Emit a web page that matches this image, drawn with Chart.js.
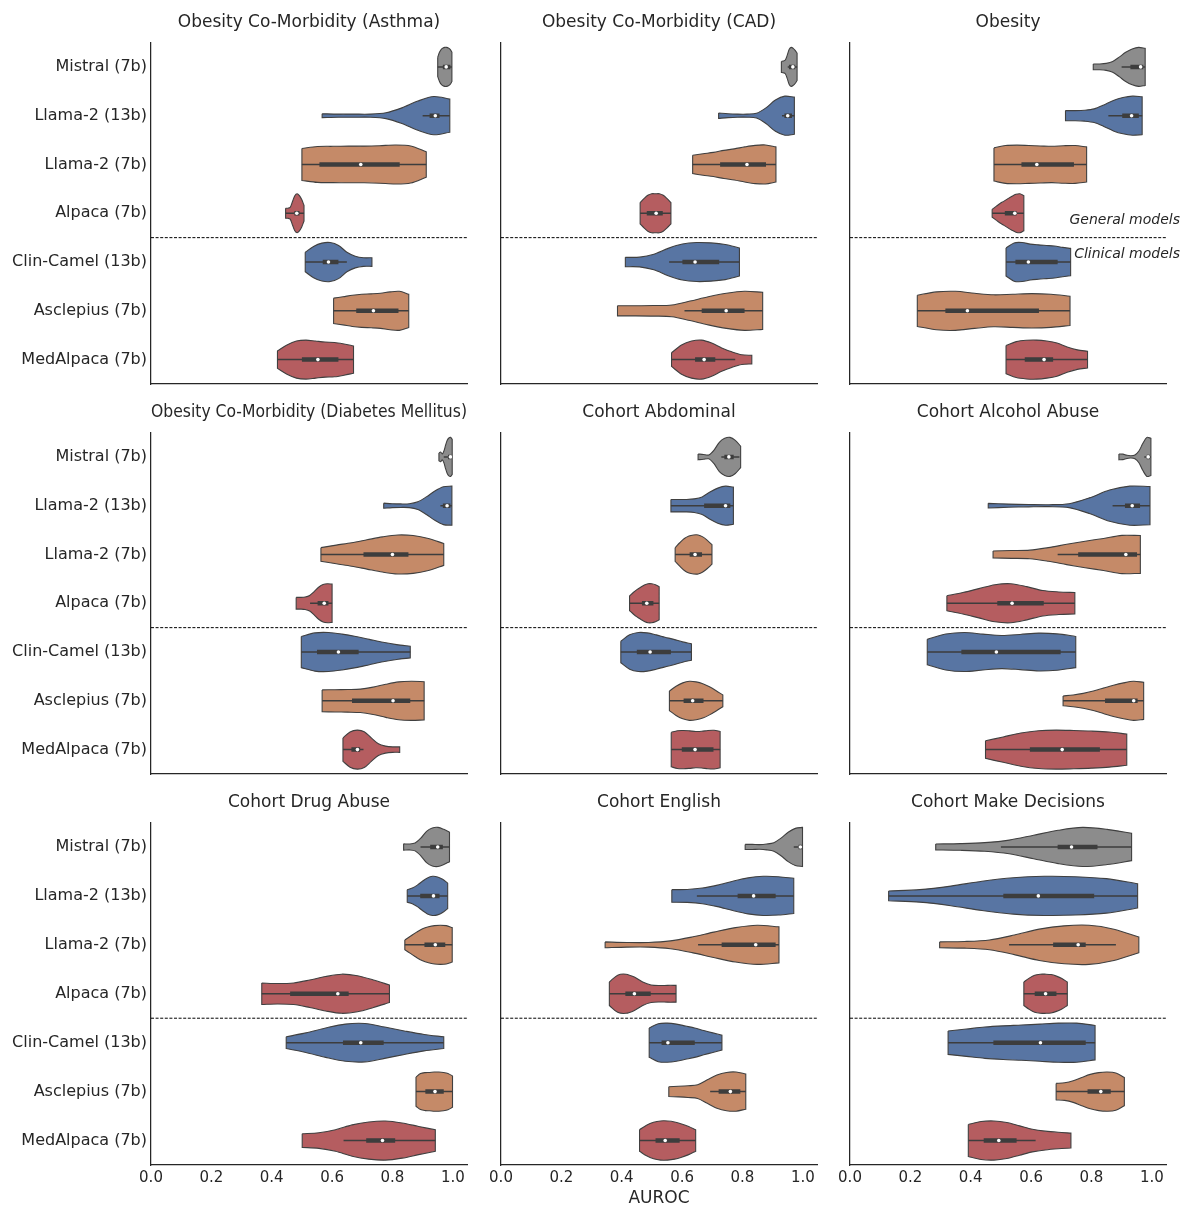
<!DOCTYPE html>
<html>
<head>
<meta charset="utf-8">
<title>AUROC violins</title>
<script src="https://cdn.jsdelivr.net/npm/chart.js@4.4.1/dist/chart.umd.min.js"></script>
<style>
    body { margin: 0; background: #ffffff; }
    #page { position: relative; width: 1183px; height: 1207px; overflow: hidden; }
    canvas { position: absolute; }
</style>
</head>
<body>
<div id="page"></div>
<script>
const models = ["Mistral (7b)", "Llama-2 (13b)", "Llama-2 (7b)", "Alpaca (7b)", "Clin-Camel (13b)", "Asclepius (7b)", "MedAlpaca (7b)"];
const modelColors = ["#8c8c8c", "#5875a3", "#c58a68", "#b55d60", "#5875a3", "#c58a68", "#b55d60"];
const panelTitles = [
    "Obesity Co-Morbidity (Asthma)", "Obesity Co-Morbidity (CAD)", "Obesity",
    "Obesity Co-Morbidity (Diabetes Mellitus)", "Cohort Abdominal", "Cohort Alcohol Abuse",
    "Cohort Drug Abuse", "Cohort English", "Cohort Make Decisions"
];
const xTicks = [0.0, 0.2, 0.4, 0.6, 0.8, 1.0];
const groupNotes = ["General models", "Clinical models"];

// violin outline per model: [lowest AUROC, highest AUROC, relative widths read from low to high]
// inner box per model: [whisker low, q1, median, q3, whisker high]
const asthmaViolins = [
    [0.950, 0.997, [0.5, 0.75, 0.9, 0.97, 1, 1, 0.97, 0.9, 0.75]],
    [0.567, 0.990, [0.1, 0.08, 0.08, 0.08, 0.15, 0.4, 0.75, 0.98, 0.85]],
    [0.500, 0.912, [0.82, 0.92, 0.93, 0.94, 0.94, 0.96, 1.0, 0.95, 0.65]],
    [0.446, 0.507, [0.26, 0.26, 0.3, 0.6, 0.9, 1.0, 0.9, 0.7, 0.4]],
    [0.511, 0.732, [0.5, 0.8, 0.97, 1.0, 0.85, 0.5, 0.3, 0.22, 0.22]],
    [0.605, 0.854, [0.65, 0.72, 0.8, 0.85, 0.87, 0.9, 0.97, 1.0, 0.85]],
    [0.419, 0.671, [0.45, 0.75, 0.95, 1.0, 0.95, 0.9, 0.88, 0.8, 0.7]]
];
const asthmaBoxes = [
    [0.950, 0.967, 0.978, 0.992, 0.997],
    [0.900, 0.923, 0.942, 0.956, 0.990],
    [0.500, 0.558, 0.695, 0.824, 0.912],
    [0.446, 0.475, 0.483, 0.492, 0.507],
    [0.511, 0.569, 0.588, 0.621, 0.649],
    [0.605, 0.680, 0.737, 0.820, 0.854],
    [0.419, 0.500, 0.553, 0.621, 0.671]
];

const cadViolins = [
    [0.929, 0.981, [0.28, 0.3, 0.35, 0.6, 0.9, 1.0, 0.95, 0.85, 0.7]],
    [0.721, 0.972, [0.14, 0.1, 0.08, 0.08, 0.12, 0.4, 0.8, 1.0, 0.95]],
    [0.635, 0.911, [0.47, 0.55, 0.62, 0.72, 0.8, 0.9, 0.98, 1.0, 0.9]],
    [0.461, 0.563, [0.55, 0.75, 0.92, 1, 1, 1, 0.92, 0.75, 0.55]],
    [0.412, 0.790, [0.24, 0.25, 0.4, 0.7, 0.92, 1.0, 0.98, 0.9, 0.72]],
    [0.386, 0.867, [0.26, 0.26, 0.27, 0.3, 0.5, 0.72, 0.9, 1.0, 0.95]],
    [0.565, 0.831, [0.35, 0.75, 0.95, 1.0, 0.85, 0.6, 0.4, 0.25, 0.22]]
];
const cadBoxes = [
    [0.950, 0.954, 0.967, 0.975, 0.981],
    [0.931, 0.939, 0.950, 0.964, 0.972],
    [0.635, 0.726, 0.815, 0.878, 0.911],
    [0.461, 0.483, 0.514, 0.536, 0.563],
    [0.557, 0.601, 0.643, 0.723, 0.790],
    [0.608, 0.665, 0.746, 0.807, 0.867],
    [0.565, 0.643, 0.673, 0.710, 0.776]
];

const obesityViolins = [
    [0.806, 0.978, [0.15, 0.15, 0.18, 0.28, 0.5, 0.75, 0.92, 1.0, 0.95]],
    [0.714, 0.968, [0.26, 0.26, 0.28, 0.35, 0.55, 0.78, 0.93, 1.0, 0.97]],
    [0.477, 0.784, [0.85, 0.97, 0.99, 0.97, 0.95, 0.93, 0.96, 0.97, 0.9]],
    [0.471, 0.576, [0.2, 0.35, 0.5, 0.62, 0.75, 0.87, 0.97, 1.0, 0.9]],
    [0.517, 0.731, [0.72, 0.98, 1.0, 0.92, 0.88, 0.85, 0.82, 0.75, 0.7]],
    [0.223, 0.729, [0.8, 0.97, 1.0, 0.9, 0.82, 0.85, 0.88, 0.85, 0.75]],
    [0.517, 0.787, [0.72, 0.92, 0.99, 1.0, 0.95, 0.85, 0.65, 0.5, 0.43]]
];
const obesityBoxes = [
    [0.900, 0.929, 0.963, 0.972, 0.978],
    [0.856, 0.902, 0.933, 0.957, 0.968],
    [0.477, 0.568, 0.619, 0.742, 0.784],
    [0.471, 0.513, 0.546, 0.552, 0.576],
    [0.517, 0.548, 0.591, 0.688, 0.731],
    [0.223, 0.316, 0.389, 0.626, 0.729],
    [0.517, 0.579, 0.643, 0.673, 0.787]
];

const diabetesViolins = [
    [0.954, 0.998, [0.2, 0.25, 0.15, 0.3, 0.6, 0.85, 0.97, 1.0, 0.9]],
    [0.771, 0.997, [0.13, 0.1, 0.09, 0.1, 0.2, 0.45, 0.75, 0.97, 1.0]],
    [0.563, 0.970, [0.35, 0.48, 0.6, 0.75, 0.9, 1.0, 0.97, 0.82, 0.56]],
    [0.481, 0.600, [0.3, 0.3, 0.32, 0.4, 0.6, 0.82, 0.96, 1.0, 0.98]],
    [0.498, 0.859, [0.8, 0.98, 1.0, 0.92, 0.8, 0.65, 0.5, 0.38, 0.3]],
    [0.567, 0.905, [0.56, 0.57, 0.58, 0.6, 0.7, 0.85, 0.97, 1.0, 0.98]],
    [0.636, 0.824, [0.6, 0.9, 1.0, 0.92, 0.6, 0.3, 0.18, 0.14, 0.14]]
];
const diabetesBoxes = [
    [0.970, 0.984, 0.992, 0.995, 0.998],
    [0.959, 0.967, 0.981, 0.992, 0.997],
    [0.563, 0.704, 0.800, 0.853, 0.970],
    [0.527, 0.552, 0.574, 0.588, 0.600],
    [0.498, 0.550, 0.621, 0.688, 0.859],
    [0.567, 0.666, 0.802, 0.859, 0.905],
    [0.636, 0.664, 0.684, 0.693, 0.704]
];

const abdominalViolins = [
    [0.653, 0.794, [0.15, 0.12, 0.1, 0.35, 0.75, 0.95, 1.0, 0.85, 0.55]],
    [0.563, 0.770, [0.32, 0.32, 0.32, 0.35, 0.45, 0.7, 0.9, 1.0, 0.95]],
    [0.577, 0.699, [0.35, 0.6, 0.82, 0.95, 1.0, 1.0, 0.9, 0.72, 0.5]],
    [0.426, 0.524, [0.38, 0.55, 0.7, 0.82, 0.93, 1.0, 1.0, 0.95, 0.85]],
    [0.397, 0.631, [0.55, 0.88, 1.0, 0.98, 0.88, 0.76, 0.65, 0.52, 0.42]],
    [0.558, 0.735, [0.5, 0.75, 0.92, 1.0, 0.97, 0.88, 0.72, 0.52, 0.3]],
    [0.564, 0.726, [0.88, 0.97, 0.98, 0.96, 0.93, 0.94, 0.98, 0.99, 0.93]]
];
const abdominalBoxes = [
    [0.730, 0.740, 0.755, 0.771, 0.790],
    [0.563, 0.673, 0.744, 0.760, 0.770],
    [0.577, 0.625, 0.643, 0.666, 0.699],
    [0.426, 0.467, 0.483, 0.505, 0.524],
    [0.397, 0.450, 0.494, 0.563, 0.631],
    [0.558, 0.605, 0.635, 0.671, 0.735],
    [0.564, 0.599, 0.643, 0.704, 0.726]
];

const alcoholViolins = [
    [0.891, 0.997, [0.15, 0.14, 0.08, 0.06, 0.1, 0.3, 0.7, 1.0, 0.95]],
    [0.458, 0.994, [0.12, 0.08, 0.06, 0.05, 0.1, 0.4, 0.8, 1.0, 0.98]],
    [0.474, 0.962, [0.18, 0.2, 0.22, 0.35, 0.52, 0.68, 0.82, 0.98, 0.97]],
    [0.321, 0.745, [0.38, 0.55, 0.75, 0.95, 1.0, 0.85, 0.65, 0.58, 0.55]],
    [0.256, 0.748, [0.65, 0.92, 1.0, 0.92, 0.85, 0.9, 0.97, 0.93, 0.8]],
    [0.706, 0.973, [0.25, 0.3, 0.38, 0.5, 0.65, 0.8, 0.92, 1.0, 0.95]],
    [0.449, 0.917, [0.45, 0.65, 0.85, 0.97, 1.0, 0.98, 0.95, 0.9, 0.8]]
];
const alcoholBoxes = [
    [0.975, 0.983, 0.988, 0.994, 0.997],
    [0.870, 0.911, 0.935, 0.961, 0.994],
    [0.688, 0.756, 0.914, 0.951, 0.962],
    [0.321, 0.488, 0.537, 0.642, 0.745],
    [0.256, 0.369, 0.485, 0.698, 0.748],
    [0.706, 0.845, 0.940, 0.953, 0.973],
    [0.449, 0.596, 0.703, 0.828, 0.917]
];

const drugViolins = [
    [0.837, 0.989, [0.16, 0.15, 0.2, 0.45, 0.8, 0.97, 1.0, 0.9, 0.75]],
    [0.849, 0.983, [0.32, 0.4, 0.55, 0.75, 0.92, 1.0, 0.97, 0.85, 0.65]],
    [0.841, 0.998, [0.25, 0.45, 0.65, 0.82, 0.92, 0.98, 1.0, 0.98, 0.88]],
    [0.367, 0.790, [0.55, 0.52, 0.55, 0.7, 0.88, 1.0, 0.92, 0.7, 0.45]],
    [0.448, 0.970, [0.3, 0.5, 0.75, 0.95, 0.98, 0.8, 0.6, 0.42, 0.3]],
    [0.878, 0.999, [0.75, 0.92, 0.97, 0.98, 1.0, 1.0, 0.98, 0.93, 0.8]],
    [0.501, 0.942, [0.35, 0.4, 0.55, 0.8, 0.95, 1.0, 0.9, 0.72, 0.55]]
];
const drugBoxes = [
    [0.893, 0.925, 0.950, 0.967, 0.989],
    [0.849, 0.892, 0.936, 0.956, 0.983],
    [0.841, 0.906, 0.942, 0.975, 0.998],
    [0.367, 0.461, 0.619, 0.655, 0.790],
    [0.448, 0.636, 0.695, 0.771, 0.970],
    [0.878, 0.909, 0.941, 0.970, 0.999],
    [0.638, 0.713, 0.767, 0.809, 0.942]
];

const englishViolins = [
    [0.809, 0.999, [0.13, 0.13, 0.12, 0.15, 0.22, 0.45, 0.75, 0.95, 1.0]],
    [0.566, 0.970, [0.32, 0.33, 0.4, 0.55, 0.75, 0.92, 1.0, 0.98, 0.9]],
    [0.345, 0.921, [0.15, 0.12, 0.12, 0.2, 0.4, 0.65, 0.88, 1.0, 0.92]],
    [0.359, 0.580, [0.6, 0.95, 1.0, 0.85, 0.6, 0.45, 0.42, 0.43, 0.43]],
    [0.491, 0.732, [0.75, 0.97, 1.0, 0.95, 0.85, 0.75, 0.62, 0.5, 0.38]],
    [0.556, 0.811, [0.25, 0.27, 0.3, 0.35, 0.6, 0.85, 0.98, 1.0, 0.9]],
    [0.459, 0.645, [0.55, 0.78, 0.93, 1.0, 1.0, 0.95, 0.85, 0.72, 0.55]]
];
const englishBoxes = [
    [0.970, 0.986, 0.992, 0.997, 0.999],
    [0.649, 0.784, 0.837, 0.910, 0.970],
    [0.653, 0.731, 0.844, 0.910, 0.921],
    [0.359, 0.412, 0.442, 0.496, 0.580],
    [0.491, 0.532, 0.553, 0.642, 0.732],
    [0.693, 0.721, 0.760, 0.793, 0.811],
    [0.459, 0.512, 0.544, 0.592, 0.645]
];

const decisionsViolins = [
    [0.284, 0.933, [0.15, 0.17, 0.22, 0.35, 0.6, 0.85, 1.0, 0.9, 0.7]],
    [0.128, 0.953, [0.25, 0.32, 0.5, 0.75, 0.93, 1.0, 0.98, 0.88, 0.62]],
    [0.297, 0.957, [0.15, 0.17, 0.25, 0.5, 0.8, 0.97, 1.0, 0.8, 0.4]],
    [0.576, 0.720, [0.6, 0.8, 0.95, 1, 1, 0.98, 0.9, 0.78, 0.6]],
    [0.325, 0.812, [0.6, 0.7, 0.8, 0.86, 0.9, 0.95, 1.0, 1.0, 0.88]],
    [0.683, 0.909, [0.42, 0.45, 0.55, 0.72, 0.88, 0.97, 1.0, 0.95, 0.72]],
    [0.392, 0.732, [0.82, 0.97, 1.0, 0.92, 0.75, 0.58, 0.48, 0.42, 0.38]]
];
const decisionsBoxes = [
    [0.500, 0.688, 0.734, 0.820, 0.933],
    [0.128, 0.508, 0.624, 0.809, 0.953],
    [0.527, 0.673, 0.756, 0.781, 0.881],
    [0.576, 0.612, 0.648, 0.684, 0.720],
    [0.325, 0.475, 0.631, 0.781, 0.812],
    [0.683, 0.787, 0.831, 0.864, 0.909],
    [0.392, 0.443, 0.493, 0.552, 0.615]
];

const panelViolins = [asthmaViolins, cadViolins, obesityViolins, diabetesViolins, abdominalViolins, alcoholViolins, drugViolins, englishViolins, decisionsViolins];
const panelBoxes = [asthmaBoxes, cadBoxes, obesityBoxes, diabetesBoxes, abdominalBoxes, alcoholBoxes, drugBoxes, englishBoxes, decisionsBoxes];

const textColor = "#262626";
const innerColor = "#3d3d3d";
const xMax = 1.047;
const halfWidth = 0.4;

let charts = [];

// outline of one violin as a closed path; corner points are doubled so the flat ends stay straight
function violinOutline(violin, row) {
    let lo = violin[0];
    let hi = violin[1];
    let widths = violin[2];
    let step = (hi - lo) / (widths.length - 1);
    let top = [];
    let bottom = [];

    for(let k = 0; k < widths.length; k++) {
        let x = lo + k * step;
        top.push({x: x, y: row - halfWidth * widths[k]});
        bottom.push({x: x, y: row + halfWidth * widths[k]});
    }
    bottom.reverse();

    let n = top.length;
    let pts = top.slice();
    pts.push(top[n - 1]);
    pts.push(bottom[0], bottom[0]);
    pts = pts.concat(bottom.slice(1));
    pts.push(bottom[n - 1]);
    pts.push(top[0]);
    return pts;
}

function buildDatasets(violins, boxes) {
    let datasets = [];

    for(let i = 0; i < models.length; i++) {
        let box = boxes[i];
        datasets.push({
            data: violinOutline(violins[i], i),
            showLine: true,
            fill: "shape",
            backgroundColor: modelColors[i],
            borderColor: "#404040",
            borderWidth: 1.1,
            tension: 0.3,
            pointRadius: 0,
            order: 4
        });
        datasets.push({
            data: [{x: box[0], y: i}, {x: box[4], y: i}],
            showLine: true,
            borderColor: innerColor,
            borderWidth: 1.5,
            pointRadius: 0,
            order: 3
        });
        datasets.push({
            data: [{x: box[1], y: i}, {x: box[3], y: i}],
            showLine: true,
            borderColor: innerColor,
            borderWidth: 4.5,
            pointRadius: 0,
            order: 2
        });
        datasets.push({
            data: [{x: box[2], y: i}],
            showLine: false,
            pointRadius: 1.8,
            pointBackgroundColor: "#ffffff",
            pointBorderWidth: 0,
            order: 1
        });
    }

    // separator between general and clinical models
    datasets.push({
        data: [{x: 0, y: 3.5}, {x: xMax, y: 3.5}],
        showLine: true,
        borderColor: "#000000",
        borderWidth: 1,
        borderDash: [3, 1.6],
        pointRadius: 0,
        order: 5
    });

    return datasets;
}

const groupNotesPlugin = {
    id: "groupNotes",
    afterDraw: function(chart) {
        let ctx = chart.ctx;
        let y = chart.scales.y.getPixelForValue(3.5);
        let x = chart.chartArea.right + 14;
        ctx.save();
        ctx.font = "italic 14px 'DejaVu Sans'";
        ctx.fillStyle = textColor;
        ctx.textAlign = "right";
        ctx.textBaseline = "middle";
        ctx.fillText(groupNotes[0], x, y - 17);
        ctx.fillText(groupNotes[1], x, y + 17);
        ctx.restore();
    }
};

function loadPanel(p) {
    let row = Math.floor(p / 3);
    let col = p % 3;
    let lastRow = row == 2;
    let axisHeight = lastRow ? 44 : 3;

    let canvas = document.createElement("canvas");
    canvas.width = 484;
    canvas.height = 40.5 + 345 + axisHeight;
    canvas.style.left = [0, 350, 699][col] + "px";
    canvas.style.top = (row * 390) + "px";
    document.getElementById("page").appendChild(canvas);

    const config = {
        type: "scatter",
        data: {datasets: buildDatasets(panelViolins[p], panelBoxes[p])},
        options: {
            responsive: false,
            animation: false,
            devicePixelRatio: 1,
            layout: {padding: {left: 0, right: 17, top: 0, bottom: 0}},
            plugins: {
                legend: {display: false},
                tooltip: {enabled: false},
                title: {
                    display: true,
                    text: panelTitles[p],
                    fullSize: false,
                    color: textColor,
                    font: {family: "DejaVu Sans", size: 17, weight: "normal"},
                    padding: {top: 12.5, bottom: 9.6}
                }
            },
            scales: {
                x: {
                    type: "linear",
                    min: 0,
                    max: xMax,
                    grid: {display: false, drawTicks: false},
                    border: {display: true, color: textColor, width: 1.25},
                    afterBuildTicks: function(scale) {
                        scale.ticks = xTicks.map(v => ({value: v}));
                    },
                    afterFit: function(scale) {
                        scale.height = axisHeight;
                    },
                    ticks: {
                        display: lastRow,
                        padding: 4,
                        color: textColor,
                        font: {family: "DejaVu Sans", size: 15},
                        callback: v => v.toFixed(1)
                    },
                    title: {
                        display: lastRow && col == 1,
                        text: "AUROC",
                        color: textColor,
                        font: {family: "DejaVu Sans", size: 17, lineHeight: 1.2},
                        padding: {top: 0, bottom: 0}
                    }
                },
                y: {
                    type: "linear",
                    reverse: true,
                    min: -0.5,
                    max: 6.5,
                    grid: {display: false, drawTicks: false},
                    border: {display: true, color: textColor, width: 1.25},
                    afterBuildTicks: function(scale) {
                        scale.ticks = models.map((m, i) => ({value: i}));
                    },
                    afterFit: function(scale) {
                        // keep every panel's plot area the same size, labels or not
                        scale.width = 151;
                        scale.paddingTop = 0;
                        scale.paddingBottom = 0;
                    },
                    ticks: {
                        display: col == 0,
                        padding: 4,
                        color: textColor,
                        font: {family: "DejaVu Sans", size: 16},
                        callback: v => models[v]
                    }
                }
            }
        },
        plugins: p == 2 ? [groupNotesPlugin] : []
    };

    charts.push(new Chart(canvas, config));
}

for(let p = 0; p < panelTitles.length; p++) {
    loadPanel(p);
}
</script>
</body>
</html>
